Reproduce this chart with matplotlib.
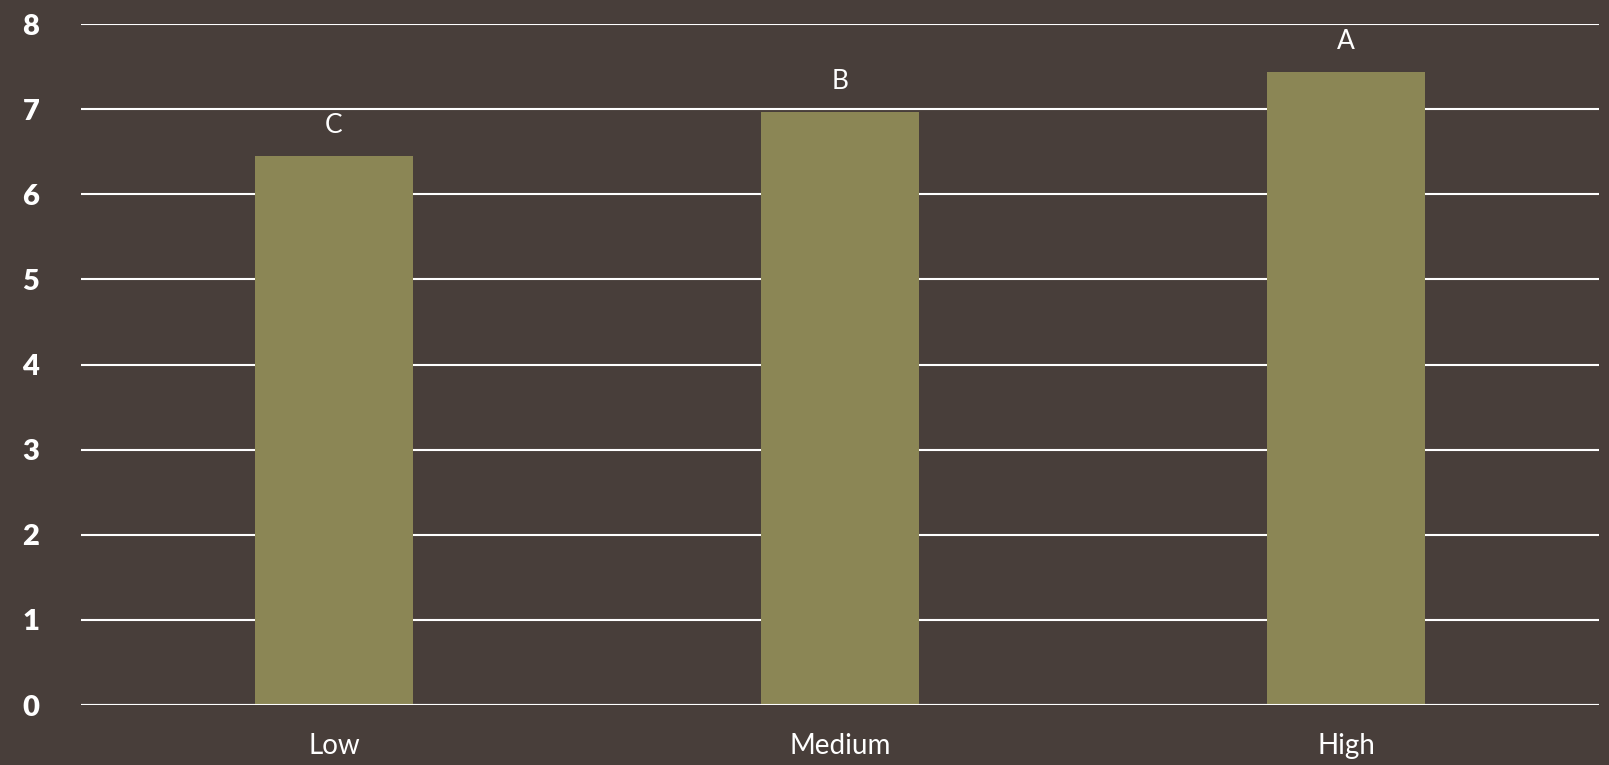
import matplotlib
matplotlib.use("Agg")
import matplotlib.pyplot as plt

categories = ["Low", "Medium", "High"]
values = [6.45, 6.97, 7.44]
groups = ["C", "B", "A"]
yticks = [0, 1, 2, 3, 4, 5, 6, 7, 8]

bg = "#483E3A"
bar_color = "#8B8655"

plt.rcParams["font.family"] = ["Lato", "DejaVu Sans"]

fig = plt.figure(figsize=(16.09, 7.65), dpi=100, facecolor=bg)
ax = fig.add_axes([0.0503, 0.0784, 0.9435, 0.8902], facecolor=bg)

x = range(len(categories))
bars = ax.bar(x, values, width=0.314, color=bar_color, zorder=2)

# group letters sit just above each bar
for b, g in zip(bars, groups):
    ax.annotate(g, (b.get_x() + b.get_width() / 2, b.get_height()),
                xytext=(0, 13), textcoords="offset points",
                ha="center", va="bottom", color="white", fontsize=19)

ax.set_xlim(-0.5, 2.5)
ax.set_ylim(0, 8)
ax.set_yticks(yticks)
ax.set_xticks(list(x))
ax.set_xticklabels(categories, fontsize=20, color="white")
for lbl in ax.get_yticklabels():
    lbl.set_fontweight("heavy")
    lbl.set_fontsize(21)
    lbl.set_color("white")

ax.tick_params(axis="y", length=0, pad=30)
ax.tick_params(axis="x", length=0, pad=20)
ax.yaxis.grid(True, color="white", linewidth=1.5, zorder=1)
ax.set_axisbelow(True)
ax.axhline(0, color="white", linewidth=1.5, zorder=3)
for s in ax.spines.values():
    s.set_visible(False)

fig.savefig("out.png", facecolor=bg)
